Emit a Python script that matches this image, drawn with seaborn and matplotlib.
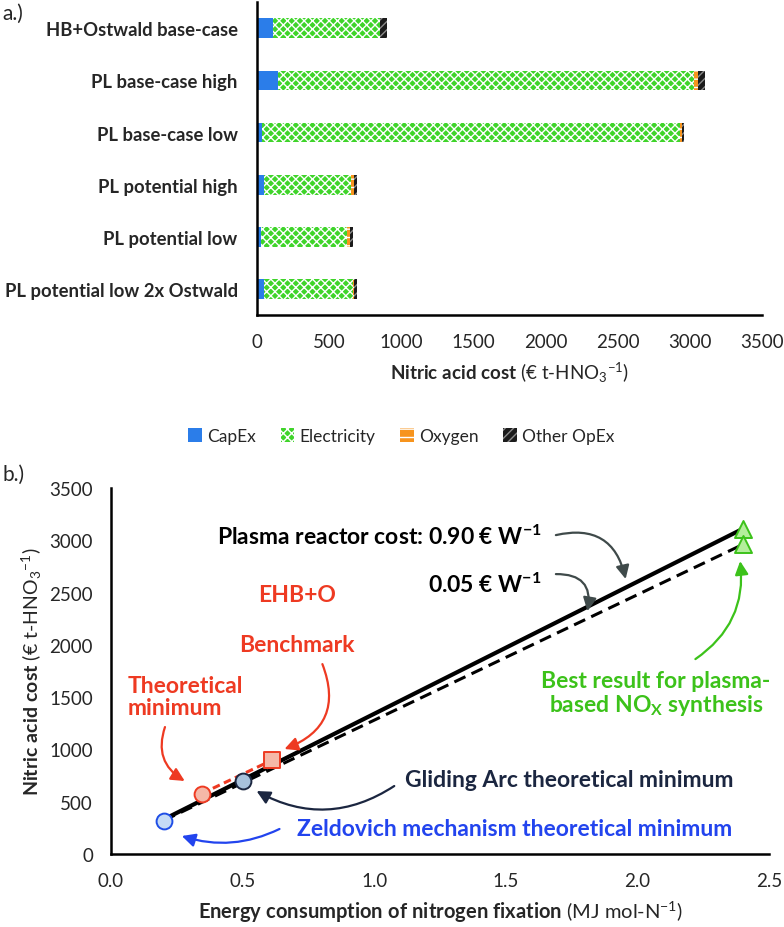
import matplotlib
matplotlib.use("Agg")
import matplotlib.pyplot as plt
from matplotlib.patches import Patch
import seaborn as sns
import pandas as pd

# === Data: panel a (cost breakdown, EUR per t HNO3) ===
cases = ["HB+Ostwald base-case", "PL base-case high", "PL base-case low",
         "PL potential high", "PL potential low", "PL potential low 2x Ostwald"]
capex = [110, 142, 31, 48, 24, 48]
electricity = [745, 2889, 2897, 604, 599, 614]
oxygen = [0, 26, 14, 22, 24, 7]
other_opex = [42, 51, 14, 21, 15, 26]

# === Data: panel b (energy consumption vs cost) ===
line_x = [0.2, 2.4]
line_high = [330, 3110]
line_low = [320, 2960]
zeldovich = (0.2, 316)
gliding = (0.5, 700)
ehb_x = [0.345, 0.613]
ehb_y = [578, 899]
best_x = [2.4, 2.4]
best_y = [3105, 2964]

# === Style ===
sns.set_style("white")
plt.rcParams["font.family"] = ["Lato", "DejaVu Sans"]
plt.rcParams["mathtext.fontset"] = "custom"
plt.rcParams["mathtext.rm"] = "Lato"
plt.rcParams["mathtext.bf"] = "Lato:bold"
plt.rcParams["mathtext.it"] = "Lato:italic"
plt.rcParams["hatch.linewidth"] = 1.0

fig = plt.figure(figsize=(7.84, 9.28), dpi=100)

# === Panel a: stacked bars (overlay cumulative totals) ===
ax1 = fig.add_axes([0.328, 0.6595, 0.644, 0.337])
df = pd.DataFrame({"case": cases, "capex": capex, "elec": electricity,
                   "oxy": oxygen, "other": other_opex})
df["c1"] = df["capex"]
df["c2"] = df["c1"] + df["elec"]
df["c3"] = df["c2"] + df["oxy"]
df["c4"] = df["c3"] + df["other"]

layers = [
    ("c4", "#1b1b1b", "#8a8a8a", "////"),
    ("c3", "#f7941d", "white", "--"),
    ("c2", "#3fd42a", "white", "xxxx"),
    ("c1", "#2b7de9", "#2b7de9", None),
]
for col, fc, ec, hatch in layers:
    sns.barplot(data=df, x=col, y="case", orient="h", color=fc, saturation=1,
                width=0.38, errorbar=None, edgecolor=ec, linewidth=0,
                hatch=hatch, ax=ax1)

ax1.set_xlim(0, 3500)
ax1.set_xticks(range(0, 3501, 500))
ax1.set_ylabel("")
ax1.set_xlabel(r"$\mathbf{Nitric\ acid\ cost}$ (€ t-HNO$_3$$^{-1}$)", fontsize=13.5, labelpad=7)
ax1.tick_params(axis="x", direction="in", length=6, width=1.5, pad=13, labelsize=13.5)
ax1.tick_params(axis="y", length=0, pad=14, labelsize=13.3)
for lab in ax1.get_yticklabels():
    lab.set_fontweight("bold")
for s in ["top", "right"]:
    ax1.spines[s].set_visible(False)
for s in ["left", "bottom"]:
    ax1.spines[s].set_color("black")
    ax1.spines[s].set_linewidth(1.8)

handles = [
    Patch(facecolor="#2b7de9", edgecolor="#2b7de9", linewidth=0),
    Patch(facecolor="#3fd42a", edgecolor="white", hatch="xxxx", linewidth=0),
    Patch(facecolor="#f7941d", edgecolor="white", hatch="--", linewidth=0),
    Patch(facecolor="#1b1b1b", edgecolor="#8a8a8a", hatch="////", linewidth=0),
]
fig.legend(handles, ["CapEx", "Electricity", "Oxygen", "Other OpEx"],
           loc="center", bbox_to_anchor=(0.512, 0.529), ncol=4, frameon=False,
           fontsize=12.5, handlelength=0.8, handleheight=0.8, handletextpad=0.3,
           columnspacing=1.4)

fig.text(0.003, 0.985, "a.)", fontsize=15, ha="left", va="center")
fig.text(0.003, 0.488, "b.)", fontsize=15, ha="left", va="center")

# === Panel b ===
ax2 = fig.add_axes([0.1416, 0.0787, 0.8394, 0.3943])
sns.lineplot(x=line_x, y=line_high, color="black", linewidth=3.0, ax=ax2)
sns.lineplot(x=line_x, y=line_low, color="black", linewidth=2.2, ax=ax2,
             linestyle=(0, (4, 2.2)))
sns.lineplot(x=ehb_x, y=ehb_y, color="#ee3a22", linewidth=2.2, ax=ax2,
             linestyle=(0, (2.5, 1.5)))

sns.scatterplot(x=[zeldovich[0]], y=[zeldovich[1]], s=130, color="#c6dcf6",
                edgecolor="#1f4ee6", linewidth=1.4, zorder=5, ax=ax2)
sns.scatterplot(x=[gliding[0]], y=[gliding[1]], s=130, color="#a8c2dc",
                edgecolor="#1b2640", linewidth=1.4, zorder=5, ax=ax2)
sns.scatterplot(x=ehb_x[:1], y=ehb_y[:1], s=130, color="#f5b8a8",
                edgecolor="#ee3a22", linewidth=1.4, zorder=5, ax=ax2)
sns.scatterplot(x=ehb_x[1:], y=ehb_y[1:], s=130, marker="s", color="#f5b8a8",
                edgecolor="#ee3a22", linewidth=1.4, zorder=5, ax=ax2)
sns.scatterplot(x=best_x, y=best_y, s=150, marker="^", color="#b4ee9c",
                edgecolor="#3cc21a", linewidth=1.4, zorder=5, ax=ax2)

ax2.set_xlim(0, 2.5)
ax2.set_ylim(0, 3500)
ax2.set_xticks([0, 0.5, 1.0, 1.5, 2.0, 2.5])
ax2.set_xticklabels(["0.0", "0.5", "1.0", "1.5", "2.0", "2.5"])
ax2.set_yticks(range(0, 3501, 500))
ax2.tick_params(direction="in", length=6, width=1.5, labelsize=13.5)
ax2.tick_params(axis="y", pad=13)
ax2.tick_params(axis="x", pad=13)
ax2.set_xlabel(r"$\mathbf{Energy\ consumption\ of\ nitrogen\ fixation}$ (MJ mol-N$^{-1}$)",
               fontsize=14.5, labelpad=7)
ax2.set_ylabel(r"$\mathbf{Nitric\ acid\ cost}$ (€ t-HNO$_3$$^{-1}$)", fontsize=14, labelpad=4)
for s in ["top", "right"]:
    ax2.spines[s].set_visible(False)
for s in ["left", "bottom"]:
    ax2.spines[s].set_color("black")
    ax2.spines[s].set_linewidth(1.8)

red = "#ee3a22"
navy = "#1b2640"
blue = "#2244ee"
green = "#3cc21a"
grey = "#3f4a4a"

txt = dict(fontsize=16.5, fontweight="bold")
ax2.text(1.636, 3040, r"Plasma reactor cost: 0.90 € W$^{\mathbf{-1}}$", ha="right", va="center",
         color="black", **txt)
ax2.text(1.636, 2581, r"0.05 € W$^{\mathbf{-1}}$", ha="right", va="center", color="black", **txt)
ax2.text(0.705, 2486, "EHB+O", ha="center", va="center", color=red, **txt)
ax2.text(0.705, 2008, "Benchmark", ha="center", va="center", color=red, **txt)
ax2.text(0.064, 1510, "Theoretical\nminimum", ha="left", va="center", color=red,
         linespacing=1.05, **txt)
ax2.text(2.07, 1539, "Best result for plasma-\n" + r"based NO$_\mathbf{X}$ synthesis",
         ha="center", va="center", color=green, linespacing=1.05, clip_on=False, **txt)
ax2.text(1.742, 717, "Gliding Arc theoretical minimum", ha="center", va="center",
         color=navy, **txt)
ax2.text(1.534, 239, "Zeldovich mechanism theoretical minimum", ha="center", va="center",
         color=blue, **txt)


def arrow(start, end, color, rad):
    ax2.annotate("", xy=end, xytext=start,
                 arrowprops=dict(arrowstyle="-|>", color=color, lw=1.6,
                                 mutation_scale=20, shrinkA=0, shrinkB=0,
                                 connectionstyle=f"arc3,rad={rad}"))


arrow((1.69, 3050), (1.955, 2630), grey, -0.5)
arrow((1.69, 2677), (1.81, 2323), grey, -0.6)
arrow((0.803, 1816), (0.659, 1004), red, -0.5)
arrow((0.205, 1214), (0.28, 698), red, 0.4)
arrow((1.076, 650), (0.553, 602), navy, -0.3)
arrow((0.64, 239), (0.269, 172), blue, -0.2)
arrow((2.22, 1864), (2.39, 2801), green, 0.3)

fig.savefig("out.png", dpi=100)
